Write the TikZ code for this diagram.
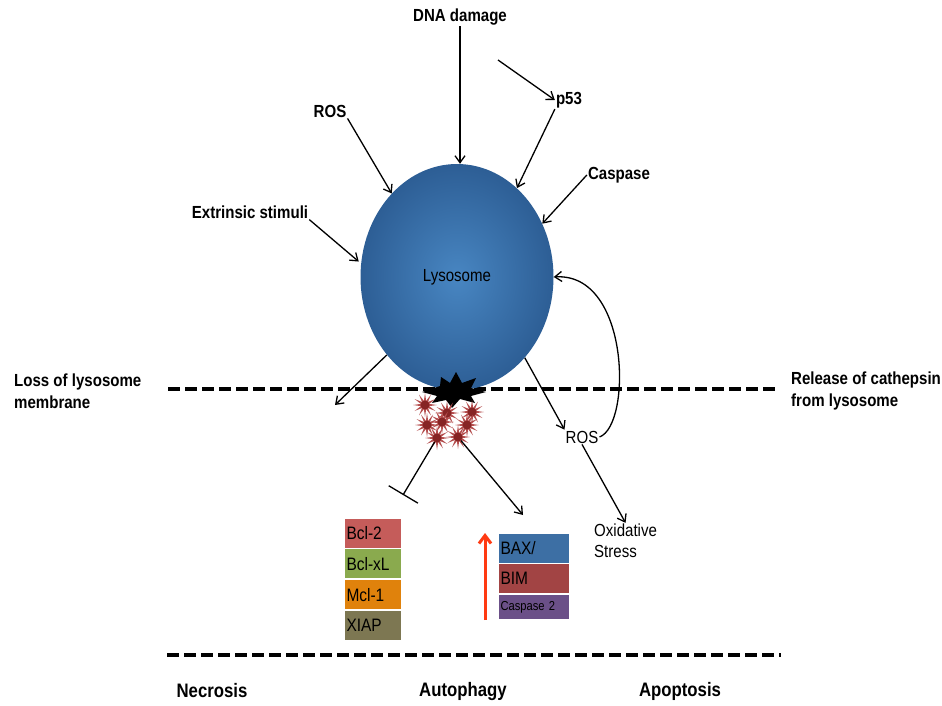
\documentclass[tikz,border=0pt]{standalone}
\usepackage{fontspec}
\setmainfont[FakeStretch=0.86]{Liberation Sans}
\usetikzlibrary{positioning}
\usetikzlibrary{shapes.geometric}
\usetikzlibrary{arrows.meta}

\definecolor{lysolight}{HTML}{4886C2}
\definecolor{lysodark}{HTML}{2D5E95}
\definecolor{cathspike}{HTML}{B44E4E}
\definecolor{cathcore}{HTML}{862424}
\definecolor{bclred}{HTML}{C55C5A}
\definecolor{bclgreen}{HTML}{8AAA4E}
\definecolor{mclorange}{HTML}{E0820C}
\definecolor{xiapolive}{HTML}{7D7752}
\definecolor{baxblue}{HTML}{3D6FA4}
\definecolor{bimred}{HTML}{A24444}
\definecolor{casppurple}{HTML}{6B5088}
\definecolor{uparrow}{HTML}{FF3A12}

\tikzset{
  lbl/.style={font=\fontsize{17.5}{22}\selectfont\bfseries, inner sep=1pt},
  biglbl/.style={font=\fontsize{19.5}{22}\selectfont\bfseries, inner sep=1pt},
  txt/.style={font=\fontsize{17.5}{21}\selectfont, inner sep=1pt},
  arr/.style={-{Straight Barb[length=7pt,width=10pt]}, line width=1.3pt},
  inh/.style={-{Bar[width=34pt]}, line width=1.3pt},
  cutline/.style={line width=4.5pt, dash pattern=on 12pt off 5pt},
  protbox/.style={rectangle, minimum width=57pt, minimum height=30pt,
    text width=53pt, align=left, inner sep=2pt, draw=white, line width=0.8pt,
    font=\fontsize{18}{18}\selectfont},
  cath/.style={circle, fill=cathcore, minimum size=9pt, inner sep=0pt},
}

\begin{document}
\begin{tikzpicture}[x=1pt,y=-1pt]
\useasboundingbox (0,0) rectangle (942,706);

% membrane lines
\draw[cutline] (168,389) -- (775,389);
\draw[cutline] (167,655) -- (781,655);

% lysosome
\node[ellipse, minimum width=193pt, minimum height=226pt,
  inner color=lysolight, outer color=lysodark, txt] (lyso) at (457,277) {Lysosome};

% rupture
\fill (422,392) -- (440,386) -- (441,377) -- (450,383) -- (456,372) -- (462,383)
  -- (476,378) -- (471,388) -- (486,392) -- (471,396) -- (475,403) -- (460,399)
  -- (452,408) -- (446,400) -- (432,403) -- (437,396) -- cycle;

% released cathepsins
\foreach \n/\x/\y in {1/425/405,2/447/413,3/472/412,4/442/422,5/427/425,6/467/425,7/437/438,8/458/437}
{
  \begin{scope}[shift={(\x,\y)}]
    \foreach \a in {0,30,...,330}
      \fill[cathspike] (\a-17:4pt) -- (\a:12pt) -- (\a+17:4pt) -- cycle;
  \end{scope}
  \node[cath] (s\n) at (\x,\y) {};
}

% labels
\node[lbl] (dna) at (460,17) {DNA damage};
\node[lbl] (ros1) at (330,111) {ROS};
\node[lbl] (ext) at (250,212) {Extrinsic stimuli};
\node[lbl] (p53) at (569,100) {p53};
\node[lbl] (casp) at (619,175) {Caspase};
\node[lbl, anchor=west, align=left] (loss) at (13,391) {Loss of lysosome\\membrane};
\node[lbl, anchor=west, align=left] (rel) at (790,391) {Release of cathepsin\\from lysosome};
\node[txt] (ros2) at (582,437) {ROS};
\node[txt, anchor=west, align=left] (oxi) at (593,541) {Oxidative\\Stress};
\node[biglbl] (necro) at (212,691) {Necrosis};
\node[biglbl] (auto) at (463,691) {Autophagy};
\node[biglbl] (apop) at (680,691) {Apoptosis};

% anti-apoptotic proteins
\node[protbox, fill=bclred] (bcl2) at (373,533) {Bcl-2};
\node[protbox, fill=bclgreen, below=0pt of bcl2] (bclxl) {Bcl-xL};
\node[protbox, fill=mclorange, below=0pt of bclxl] (mcl1) {Mcl-1};
\node[protbox, fill=xiapolive, below=0pt of mcl1] (xiap) {XIAP};

% pro-apoptotic proteins
\node[protbox, minimum width=71pt, text width=67pt, fill=baxblue] (bax) at (534,548) {BAX/};
\node[protbox, minimum width=71pt, text width=67pt, fill=bimred, below=0pt of bax] (bim) {BIM};
\node[protbox, minimum width=71pt, text width=67pt, minimum height=25pt, fill=casppurple,
  font=\fontsize{13}{13}\selectfont, below=0pt of bim] (casp2) {Caspase 2};

% free ends
\coordinate (p53in) at (498,60);
\coordinate (lossend) at (335,405);
\coordinate (inhend) at (403,495);
\coordinate (proend) at (523,515);
\coordinate (upS) at (485,620);
\coordinate (upE) at (485,533);

% arrows into the lysosome
\draw[arr] (dna.south) -- (dna.south |- lyso.north);
\draw[arr] (ros1.south east) -- (lyso.128);
\draw[arr, shorten >=3pt] (ext.south east) -- (lyso.172);
\draw[arr] (p53in) -- (p53.west);
\draw[arr] (p53.south west) -- (lyso.56);
\draw[arr] (casp.west) -- (lyso.32);

% arrows out of the lysosome
\draw[arr] (lyso.228) -- (lossend);
\draw[arr] (lyso.310) -- (ros2.north west);
\draw[arr] (ros2.south) -- (oxi.north);
\draw[arr] (ros2.east) .. controls (632,425) and (630,272) .. (lyso.east);
\draw[inh] (s7) -- (inhend);
\draw[arr] (s8) -- (proend);
\draw[uparrow, line width=3pt, -{Straight Barb[length=8pt,width=12pt]}] (upS) -- (upE);
\end{tikzpicture}
\end{document}
